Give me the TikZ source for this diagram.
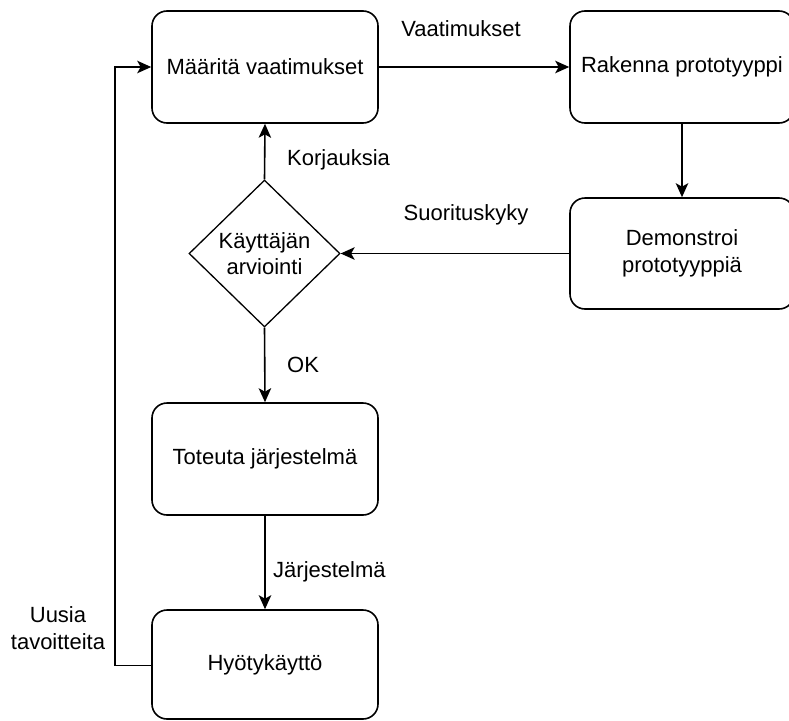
\documentclass[tikz,border=0pt]{standalone}
\usepackage{fontspec}
\setmainfont{Liberation Sans}
\usetikzlibrary{shapes.geometric,arrows.meta}
\tikzset{
  base/.style={font=\fontsize{22}{26.5}\selectfont, text=black},
  procbox/.style={base, draw=black, line width=1.6pt, rounded corners=15pt,
    minimum width=226pt, minimum height=112pt, inner sep=0pt, align=center},
  decision/.style={base, draw=black, line width=1.3pt, diamond, aspect=1,
    minimum width=151pt, minimum height=147pt, inner sep=0pt, align=center},
  lbl/.style={base, inner sep=0pt, align=center},
  conn/.style={line width=1.6pt, draw=black,
    -{Stealth[length=14pt,width=12.5pt,inset=3.5pt]}},
}
\begin{document}
\begin{tikzpicture}[x=1pt,y=-1pt]
\useasboundingbox (0,0) rectangle (789,720);
\fill[white] (0,0) rectangle (789,720);

\node[procbox] (maa) at (265,67) {Määritä vaatimukset};
\node[procbox, minimum width=224pt] (rak) at (682,67) {Rakenna prototyyppi};
\node[procbox, minimum width=224pt, minimum height=111pt] (dem) at (682,253.5) {Demonstroi\\prototyyppiä};
\node[decision] (dia) at (264.5,253.5) {Käyttäjän\\arviointi};
\node[procbox] (tot) at (265,459) {Toteuta järjestelmä};
\node[procbox, minimum height=109pt] (hyo) at (265,664.5) {Hyötykäyttö};

\coordinate (lb) at (115,665.5);
\coordinate (lt) at (115,67);

\draw[conn] (maa.east) -- (rak.west);
\draw[conn] (rak.south) -- (dem.north);
\draw[conn] (dem.west) -- (dia.east);
\draw[conn] (dia.north) -- (maa.south);
\draw[conn] (dia.south) -- (tot.north);
\draw[conn] (tot.south) -- (hyo.north);
\draw[conn] (hyo.west |- lb) -- (lb) -- (lt) -- (maa.west);

\node[lbl] (lvaa) at (461,29) {Vaatimukset};
\node[lbl] (lsuo) at (466,215) {Suorituskyky};
\node[lbl, anchor=west] (lkor) at (287,160) {Korjauksia};
\node[lbl, anchor=west] (lok) at (287,365) {OK};
\node[lbl, anchor=west] (ljar) at (273,572) {Järjestelmä};
\node[lbl] (luus) at (58,628) {Uusia\\tavoitteita};
\end{tikzpicture}
\end{document}
